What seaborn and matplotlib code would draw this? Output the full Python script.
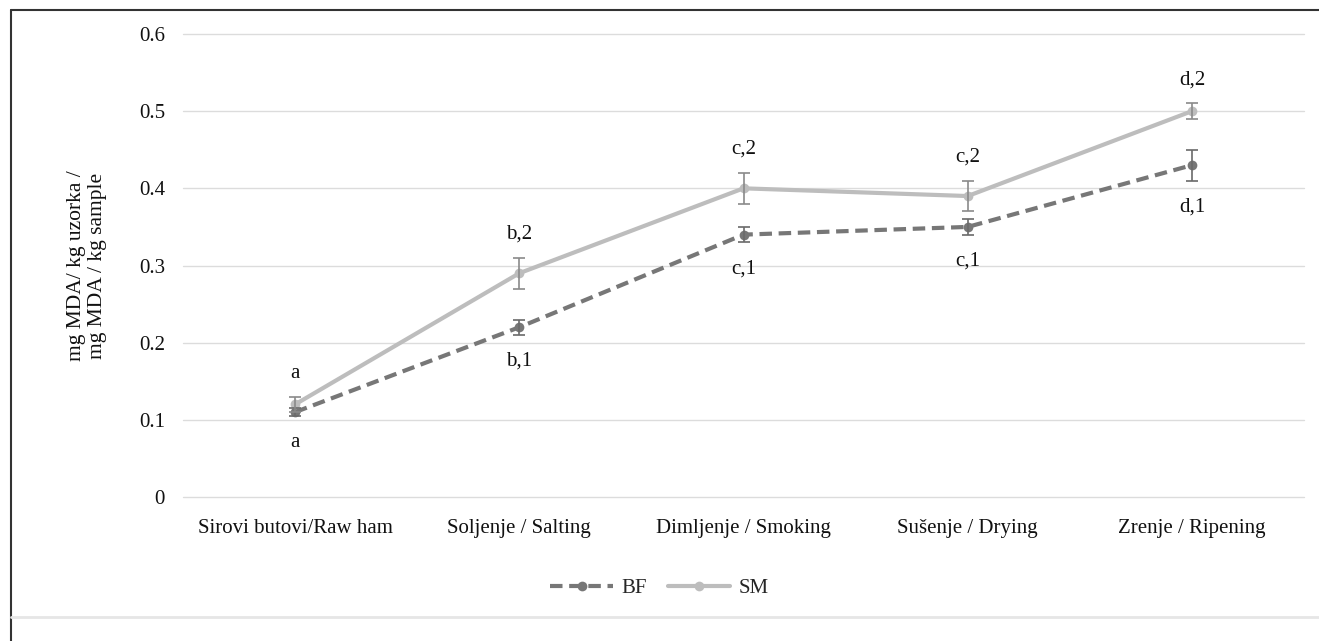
import pandas as pd
import seaborn as sns
import matplotlib.pyplot as plt
from matplotlib.lines import Line2D

stages = ['Sirovi butovi/Raw ham', 'Soljenje / Salting', 'Dimljenje / Smoking',
          'Sušenje / Drying', 'Zrenje / Ripening']
bf = [0.11, 0.22, 0.34, 0.35, 0.43]
bf_err = [0.005, 0.01, 0.01, 0.01, 0.02]
sm = [0.12, 0.29, 0.40, 0.39, 0.50]
sm_err = [0.01, 0.02, 0.02, 0.02, 0.01]
bf_labels = ['a', 'b,1', 'c,1', 'c,1', 'd,1']
sm_labels = ['a', 'b,2', 'c,2', 'c,2', 'd,2']

sns.set_style('white')
plt.rcParams['font.family'] = ['Liberation Serif', 'DejaVu Serif']

df = pd.DataFrame({
    'pos': list(range(len(stages))) * 2,
    'value': bf + sm,
    'group': ['BF'] * len(bf) + ['SM'] * len(sm),
})

c_bf = '#777777'
c_sm = '#bdbdbd'
fs = 15

fig = plt.figure(figsize=(13.19, 6.41), dpi=100)
ax = fig.add_axes([0.1387, 0.2246, 0.8500, 0.7224])

sns.lineplot(data=df, x='pos', y='value', hue='group', style='group',
             palette={'BF': c_bf, 'SM': c_sm},
             dashes={'BF': (3, 1.6), 'SM': ''},
             markers={'BF': 'o', 'SM': 'o'}, markersize=7, markeredgewidth=0,
             linewidth=3, legend=False, ax=ax)

x = list(range(len(stages)))
ax.errorbar(x, bf, yerr=bf_err, fmt='none', ecolor='#6a6a6a', elinewidth=1.2, capsize=4, capthick=1.2)
ax.errorbar(x, sm, yerr=sm_err, fmt='none', ecolor='#8a8a8a', elinewidth=1.2, capsize=4, capthick=1.2)

for i in x:
    ax.annotate(sm_labels[i], (i, sm[i] + sm_err[i]), xytext=(0, 17), textcoords='offset points',
                ha='center', va='center', fontsize=fs, color='#111111')
    ax.annotate(bf_labels[i], (i, bf[i] - bf_err[i]), xytext=(0, -19), textcoords='offset points',
                ha='center', va='center', fontsize=fs, color='#111111')

ax.set_xlim(-0.5, len(stages) - 0.5)
ax.set_ylim(0, 0.6)
ax.set_yticks([0, 0.1, 0.2, 0.3, 0.4, 0.5, 0.6])
ax.set_yticklabels(['0', '0.1', '0.2', '0.3', '0.4', '0.5', '0.6'])
ax.set_xticks(x)
ax.set_xticklabels(stages)
ax.tick_params(axis='both', labelsize=fs, length=0, colors='#111111')
ax.tick_params(axis='y', pad=13)
ax.tick_params(axis='x', pad=16)
ax.grid(axis='y', color='#dcdcdc', linewidth=1)
for gl in ax.yaxis.get_gridlines():
    gl.set_clip_on(False)
ax.set_axisbelow(True)
for s in ax.spines.values():
    s.set_visible(False)
ax.set_xlabel('')
ax.set_ylabel('mg MDA/ kg uzorka /\nmg MDA / kg sample', fontsize=15.5, linespacing=1.15, color='#111111')
ax.yaxis.set_label_coords(-0.068, 0.5)

handles = [Line2D([], [], color=c_bf, linestyle=(0, (3, 1.6)), linewidth=3, marker='o', markersize=7, markeredgewidth=0),
           Line2D([], [], color=c_sm, linestyle='-', linewidth=3, marker='o', markersize=7, markeredgewidth=0)]
fig.legend(handles, ['BF', 'SM'], loc='center', bbox_to_anchor=(0.5, 1 - 588 / 641), ncol=2,
           frameon=False, fontsize=fs, handlelength=3, columnspacing=1.0, handletextpad=0.4)

# frame lines like the source image
fig.add_artist(Line2D([11 / 1319, 1], [1 - 10 / 641, 1 - 10 / 641], color='#333333', linewidth=1.5))
fig.add_artist(Line2D([11 / 1319, 11 / 1319], [0, 1 - 10 / 641], color='#333333', linewidth=1.5))
fig.add_artist(Line2D([11 / 1319, 1], [1 - 617 / 641, 1 - 617 / 641], color='#e6e6e6', linewidth=2))

fig.savefig('out.png', dpi=100)
